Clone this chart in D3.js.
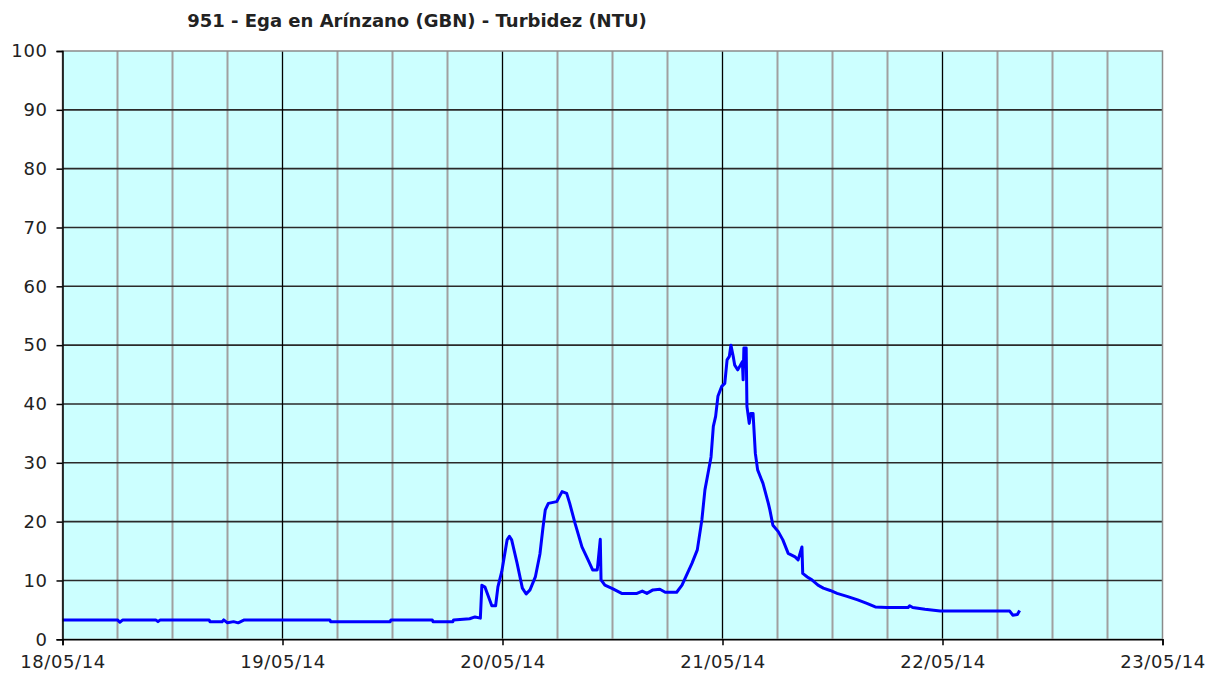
<!DOCTYPE html>
<html>
<head>
<meta charset="utf-8">
<script src="https://cdn.jsdelivr.net/npm/d3@7"></script>
<style>
  body { margin: 0; background: #fff; }
  svg { display: block; }
</style>
</head>
<body>
<div id="chart"></div>
<script>
const title = '951 - Ega en Arínzano (GBN) - Turbidez (NTU)';

// readings (date time, NTU)
const times = [
  '18/05/14 00:00', '18/05/14 06:00', '18/05/14 06:15', '18/05/14 06:35', '18/05/14 10:10',
  '18/05/14 10:25', '18/05/14 10:40', '18/05/14 16:00', '18/05/14 16:05', '18/05/14 17:25',
  '18/05/14 17:35', '18/05/14 18:00', '18/05/14 18:40', '18/05/14 19:10', '18/05/14 19:50',
  '19/05/14 05:10', '19/05/14 05:15', '19/05/14 11:45', '19/05/14 11:50', '19/05/14 16:20',
  '19/05/14 16:25', '19/05/14 18:35', '19/05/14 18:40', '19/05/14 20:25', '19/05/14 21:00',
  '19/05/14 21:35', '19/05/14 21:45', '19/05/14 22:05', '19/05/14 22:50', '19/05/14 23:15',
  '19/05/14 23:30', '19/05/14 23:55', '20/05/14 00:30', '20/05/14 00:45', '20/05/14 01:00',
  '20/05/14 01:35', '20/05/14 02:10', '20/05/14 02:35', '20/05/14 03:00', '20/05/14 03:35',
  '20/05/14 04:05', '20/05/14 04:25', '20/05/14 04:40', '20/05/14 05:00', '20/05/14 05:55',
  '20/05/14 06:30', '20/05/14 07:00', '20/05/14 07:20', '20/05/14 07:55', '20/05/14 08:40',
  '20/05/14 09:20', '20/05/14 09:50', '20/05/14 10:20', '20/05/14 10:25', '20/05/14 10:40',
  '20/05/14 10:45', '20/05/14 11:10', '20/05/14 12:00', '20/05/14 13:00', '20/05/14 14:40',
  '20/05/14 15:15', '20/05/14 15:45', '20/05/14 16:25', '20/05/14 17:10', '20/05/14 17:45',
  '20/05/14 19:00', '20/05/14 19:35', '20/05/14 20:10', '20/05/14 20:40', '20/05/14 21:15',
  '20/05/14 21:25', '20/05/14 21:45', '20/05/14 22:05', '20/05/14 22:25', '20/05/14 22:45',
  '20/05/14 23:00', '20/05/14 23:15', '20/05/14 23:30', '20/05/14 23:55', '21/05/14 00:15',
  '21/05/14 00:30', '21/05/14 00:45', '21/05/14 00:55', '21/05/14 01:10', '21/05/14 01:20',
  '21/05/14 01:40', '21/05/14 02:10', '21/05/14 02:15', '21/05/14 02:20', '21/05/14 02:35',
  '21/05/14 02:40', '21/05/14 02:55', '21/05/14 03:05', '21/05/14 03:20', '21/05/14 03:35',
  '21/05/14 03:50', '21/05/14 04:25', '21/05/14 05:00', '21/05/14 05:10', '21/05/14 05:30',
  '21/05/14 06:05', '21/05/14 06:35', '21/05/14 07:10', '21/05/14 07:55', '21/05/14 08:15',
  '21/05/14 08:40', '21/05/14 08:45', '21/05/14 09:15', '21/05/14 09:45', '21/05/14 10:25',
  '21/05/14 11:00', '21/05/14 11:45', '21/05/14 12:30', '21/05/14 13:35', '21/05/14 14:45',
  '21/05/14 15:45', '21/05/14 16:40', '21/05/14 17:55', '21/05/14 20:15', '21/05/14 20:25',
  '21/05/14 20:45', '21/05/14 22:05', '21/05/14 23:45', '22/05/14 07:20', '22/05/14 07:40',
  '22/05/14 08:10', '22/05/14 08:25'
];
const turbidity = [
  3.3, 3.3, 2.9, 3.3, 3.3,
  3.0, 3.3, 3.3, 3.0, 3.0,
  3.3, 2.8, 3.0, 2.8, 3.3,
  3.3, 3.0, 3.0, 3.3, 3.3,
  3.0, 3.0, 3.3, 3.5, 3.8,
  3.6, 9.2, 8.9, 5.7, 5.7,
  8.9, 11.5, 16.9, 17.5, 16.9,
  13.0, 8.7, 7.7, 8.4, 10.6,
  14.5, 19.0, 22.0, 23.1, 23.4,
  25.1, 24.8, 23.1, 19.7, 15.7,
  13.5, 11.8, 11.8, 13.0, 17.0,
  10.1, 9.2, 8.6, 7.8, 7.8,
  8.2, 7.8, 8.4, 8.5, 8.0,
  8.0, 9.2, 11.2, 12.9, 15.2,
  16.9, 20.3, 25.4, 28.2, 31.0,
  36.2, 37.9, 41.3, 43.0, 43.5,
  47.5, 48.1, 50.0, 48.1, 46.6,
  45.8, 47.2, 44.1, 49.5, 49.5,
  39.6, 36.7, 38.4, 38.4, 31.6,
  28.8, 26.5, 23.1, 22.0, 19.4,
  18.3, 16.9, 14.6, 14.0, 13.5,
  15.7, 11.2, 10.6, 10.1, 9.2,
  8.7, 8.3, 7.8, 7.3, 6.7,
  6.1, 5.5, 5.4, 5.4, 5.7,
  5.4, 5.1, 4.8, 4.8, 4.1,
  4.2, 4.9
];

const xDomain = ['18/05/14 00:00', '23/05/14 00:00'];
const yTicks = [0, 10, 20, 30, 40, 50, 60, 70, 80, 90, 100];

const width = 1222, height = 679;
const margin = { top: 51, right: 60, bottom: 40, left: 62.5 };
const plotW = 1162.5 - margin.left;
const plotH = 639.3 - margin.top;

const parse = d3.timeParse('%d/%m/%y %H:%M');
const data = times.map((t, i) => ({ t: parse(t), v: turbidity[i] }));

const svg = d3.select('#chart').append('svg')
  .attr('width', width)
  .attr('height', height);

svg.append('text')
  .attr('x', 417)
  .attr('y', 27)
  .attr('text-anchor', 'middle')
  .style('font-family', '"DejaVu Sans", sans-serif')
  .style('font-weight', 'bold')
  .style('font-size', '18px')
  .attr('fill', '#222')
  .text(title);

const plot = svg.append('g')
  .attr('transform', `translate(${margin.left}, ${margin.top})`);

const x = d3.scaleTime()
  .domain(xDomain.map(parse))
  .range([0, plotW]);
const y = d3.scaleLinear()
  .domain([0, 100])
  .range([plotH, 0]);

plot.append('rect')
  .attr('width', plotW)
  .attr('height', plotH)
  .attr('fill', '#ccffff');

// vertical grid: grey every 6 hours, black at midnight
const hours6 = d3.timeHour.every(6).range(x.domain()[0], d3.timeHour.offset(x.domain()[1], 1));
plot.append('g').selectAll('line')
  .data(hours6.filter(d => d.getHours() !== 0))
  .enter().append('line')
  .attr('x1', d => x(d)).attr('x2', d => x(d))
  .attr('y1', 0).attr('y2', plotH)
  .attr('stroke', '#a0a0a0')
  .attr('stroke-width', 2);

plot.append('g').selectAll('line')
  .data(yTicks.filter(d => d > 0 && d < 100))
  .enter().append('line')
  .attr('x1', 0).attr('x2', plotW)
  .attr('y1', d => y(d)).attr('y2', d => y(d))
  .attr('stroke', '#2a2a2a')
  .attr('stroke-width', 1.6);

plot.append('g').selectAll('line')
  .data(hours6.filter(d => d.getHours() === 0 && x(d) > 1 && x(d) < plotW - 1))
  .enter().append('line')
  .attr('x1', d => x(d)).attr('x2', d => x(d))
  .attr('y1', 0).attr('y2', plotH)
  .attr('stroke', '#000')
  .attr('stroke-width', 1.3);

// border
plot.append('rect')
  .attr('width', plotW)
  .attr('height', plotH)
  .attr('fill', 'none')
  .attr('stroke', '#8a8a8a')
  .attr('stroke-width', 1.5);

const line = d3.line()
  .x(d => x(d.t))
  .y(d => y(d.v));

plot.append('path')
  .datum(data)
  .attr('fill', 'none')
  .attr('stroke', '#0000ff')
  .attr('stroke-width', 3)
  .attr('stroke-linejoin', 'round')
  .attr('d', line);

const yAxis = d3.axisLeft(y)
  .tickValues(yTicks)
  .tickSize(6)
  .tickPadding(9)
  .tickFormat(d3.format('d'));
const xAxis = d3.axisBottom(x)
  .ticks(d3.timeDay.every(1))
  .tickSize(6)
  .tickPadding(10)
  .tickFormat(d3.timeFormat('%d/%m/%y'));

const yG = plot.append('g').call(yAxis);
const xG = plot.append('g')
  .attr('transform', `translate(0, ${plotH})`)
  .call(xAxis);

[yG, xG].forEach(g => {
  g.select('.domain').attr('stroke', '#000').attr('stroke-width', 1.5);
  g.selectAll('.tick line').attr('stroke', '#000').attr('stroke-width', 1.5);
  g.selectAll('text')
    .attr('fill', '#222')
    .style('font-family', '"DejaVu Sans", Verdana, sans-serif')
    .style('font-size', '18px')
    .style('letter-spacing', '0.6px');
});
</script>
</body>
</html>
